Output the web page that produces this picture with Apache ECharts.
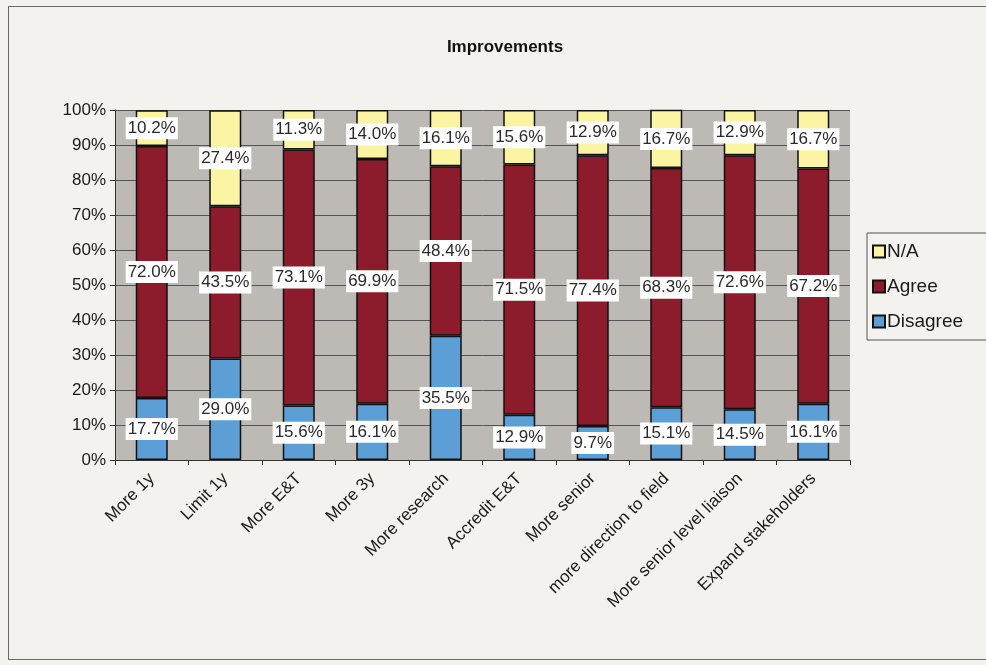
<!DOCTYPE html>
<html><head><meta charset="utf-8">
<script src="https://cdn.jsdelivr.net/npm/echarts@6/dist/echarts.min.js"></script>
<style>
html,body{margin:0;padding:0;background:#f3f2ee;}
#c{width:986px;height:665px;}
#frame{position:absolute;left:8px;top:6px;width:990px;height:652px;border:1px solid #6a6a6a;pointer-events:none;}
</style></head>
<body>
<div id="c"></div>
<div id="frame"></div>
<script>
const categories = ["More 1y","Limit 1y","More E&T","More 3y","More research","Accredit E&T","More senior","more direction to field","More senior level liaison","Expand stakeholders"];
const disagree = [17.7,29.0,15.6,16.1,35.5,12.9,9.7,15.1,14.5,16.1];
const agree = [72.0,43.5,73.1,69.9,48.4,71.5,77.4,68.3,72.6,67.2];
const na = [10.2,27.4,11.3,14.0,16.1,15.6,12.9,16.7,12.9,16.7];
const yTicks = [0,10,20,30,40,50,60,70,80,90,100];

const chart = echarts.init(document.getElementById('c'));
const label = {
  show:true, position:'inside', color:'#2a2a2a', fontSize:17, fontFamily:'Liberation Sans, Arial',
  backgroundColor:'#ffffff', padding:[3,2,2,2],
  formatter: p => p.value.toFixed(1) + '%'
};
function s(name, data, color){
  return {name, type:'bar', stack:'t', data, barWidth:32,
    itemStyle:{color, borderColor:'#111', borderWidth:1.5},
    label};
}
chart.setOption({
  backgroundColor:'#f3f2ee',
  animation:false,
  title:{text:'Improvements', left:500, top:34, textAlign:'center',
    textStyle:{fontSize:17, fontWeight:'bold', fontFamily:'Liberation Sans, Arial', color:'#111'}},
  grid:{left:115, right:136, top:110, bottom:205, show:true, backgroundColor:'#bdbab5', borderWidth:0},
  legend:{orient:'vertical', left:867, top:233, data:['N/A','Agree','Disagree'],
    padding:[9,30,9,5], itemGap:16, itemWidth:12, itemHeight:12,
    borderColor:'#555', borderWidth:1, backgroundColor:'#f3f2ee',
    icon:'rect', textStyle:{fontSize:19, fontFamily:'Liberation Sans, Arial', color:'#1a1a1a', padding:[0,0,0,-3]}},
  xAxis:{type:'category', data:categories,
    axisLine:{lineStyle:{color:'#333'}},
    axisTick:{show:true, alignWithLabel:false, lineStyle:{color:'#333'}},
    axisLabel:{rotate:45, interval:0, fontSize:17, fontFamily:'Liberation Sans, Arial', color:'#1a1a1a', margin:16}},
  yAxis:{type:'value', min:0, max:100, interval:10,
    axisLine:{show:true, lineStyle:{color:'#333'}},
    axisTick:{show:true, lineStyle:{color:'#333'}},
    splitLine:{lineStyle:{color:'#555', width:1}},
    axisLabel:{formatter: v => yTicks.includes(v) ? v + '%' : '', fontSize:17, fontFamily:'Liberation Sans, Arial', color:'#1a1a1a', margin:9}},
  series:[
    s('Disagree', disagree, '#5b9fd6'),
    s('Agree', agree, '#8c1c2c'),
    s('N/A', na, '#fbf4a3')
  ]
});
</script>
</body></html>
